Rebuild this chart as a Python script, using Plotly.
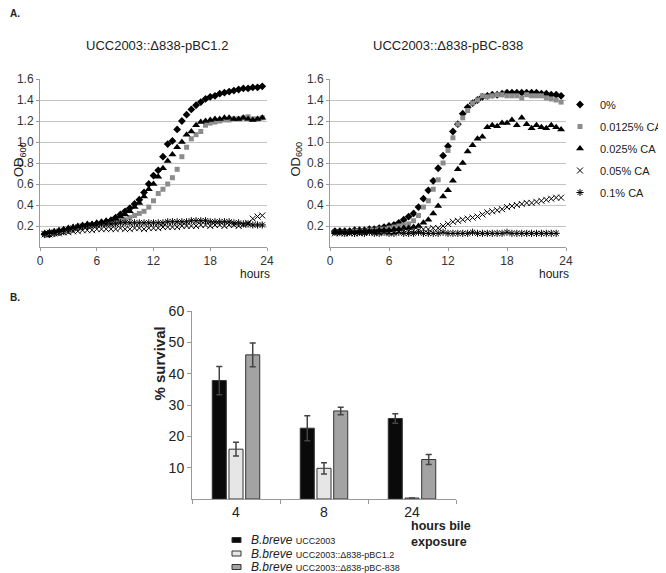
import plotly.graph_objects as go

# the page body keeps its default 8px margin, so the figure is drawn 8px in
OFF = 8
W, H = 666 - OFF, 573 - OFF
FONT = "Liberation Sans, Arial, sans-serif"

# sampling times (hours) for the growth curves
hours = [0.5, 1.0, 1.5, 2.0, 2.5, 3.0, 3.5, 4.0, 4.5, 5.0,
         5.5, 6.0, 6.5, 7.0, 7.5, 8.0, 8.5, 9.0, 9.5, 10.0,
         10.5, 11.0, 11.5, 12.0, 12.5, 13.0, 13.5, 14.0, 14.5, 15.0,
         15.5, 16.0, 16.5, 17.0, 17.5, 18.0, 18.5, 19.0, 19.5, 20.0,
         20.5, 21.0, 21.5, 22.0, 22.5, 23.0, 23.5]

series_names = ["0%", "0.0125% CA", "0.025% CA", "0.05% CA", "0.1% CA"]

# UCC2003::Δ838-pBC1.2  (OD600)
left_0 = [0.12, 0.12, 0.13, 0.14, 0.15, 0.16, 0.17, 0.18, 0.19, 0.20,
          0.21, 0.22, 0.23, 0.24, 0.25, 0.28, 0.31, 0.34, 0.37, 0.41,
          0.45, 0.52, 0.60, 0.68, 0.73, 0.86, 0.98, 1.01, 1.12, 1.20,
          1.26, 1.31, 1.35, 1.38, 1.41, 1.43, 1.44, 1.46, 1.47, 1.48,
          1.49, 1.50, 1.51, 1.51, 1.52, 1.52, 1.53]
left_0125 = [0.12, 0.13, 0.13, 0.14, 0.15, 0.16, 0.17, 0.18, 0.19, 0.20,
             0.21, 0.21, 0.22, 0.22, 0.23, 0.24, 0.25, 0.26, 0.28, 0.30,
             0.32, 0.34, 0.38, 0.44, 0.51, 0.55, 0.60, 0.66, 0.74, 0.86,
             0.95, 1.03, 1.07, 1.10, 1.16, 1.18, 1.19, 1.20, 1.21, 1.21,
             1.22, 1.22, 1.23, 1.24, 1.22, 1.22, 1.23]
left_025 = [0.13, 0.14, 0.15, 0.16, 0.17, 0.18, 0.19, 0.20, 0.21, 0.22,
            0.22, 0.23, 0.24, 0.25, 0.26, 0.27, 0.29, 0.31, 0.34, 0.38,
            0.42, 0.48, 0.55, 0.60, 0.67, 0.75, 0.82, 0.88, 0.95, 1.00,
            1.07, 1.10, 1.16, 1.19, 1.20, 1.21, 1.22, 1.22, 1.23, 1.23,
            1.22, 1.22, 1.23, 1.22, 1.21, 1.22, 1.23]
left_05 = [0.12, 0.12, 0.13, 0.13, 0.14, 0.14, 0.15, 0.15, 0.16, 0.16,
           0.16, 0.17, 0.17, 0.17, 0.17, 0.17, 0.18, 0.17, 0.17, 0.18,
           0.18, 0.17, 0.18, 0.18, 0.18, 0.19, 0.19, 0.19, 0.19, 0.20,
           0.20, 0.20, 0.20, 0.21, 0.21, 0.20, 0.21, 0.21, 0.20, 0.21,
           0.21, 0.20, 0.21, 0.23, 0.27, 0.29, 0.30]
left_1 = [0.13, 0.14, 0.14, 0.15, 0.16, 0.17, 0.18, 0.19, 0.20, 0.20,
          0.21, 0.21, 0.22, 0.22, 0.22, 0.22, 0.23, 0.23, 0.23, 0.23,
          0.23, 0.23, 0.23, 0.23, 0.23, 0.23, 0.24, 0.24, 0.24, 0.24,
          0.24, 0.25, 0.25, 0.25, 0.25, 0.24, 0.24, 0.24, 0.24, 0.24,
          0.23, 0.23, 0.22, 0.22, 0.21, 0.21, 0.21]

# UCC2003::Δ838-pBC-838  (OD600)
right_0 = [0.15, 0.15, 0.15, 0.15, 0.16, 0.16, 0.16, 0.17, 0.17, 0.18,
           0.19, 0.20, 0.21, 0.23, 0.26, 0.29, 0.32, 0.38, 0.46, 0.54,
           0.63, 0.75, 0.87, 0.96, 1.10, 1.17, 1.27, 1.33, 1.37, 1.40,
           1.43, 1.44, 1.45, 1.45, 1.46, 1.47, 1.47, 1.47, 1.47, 1.47,
           1.47, 1.47, 1.46, 1.46, 1.45, 1.45, 1.44]
right_0125 = [0.14, 0.14, 0.14, 0.14, 0.15, 0.15, 0.15, 0.16, 0.16, 0.17,
              0.17, 0.18, 0.19, 0.20, 0.21, 0.22, 0.25, 0.30, 0.38, 0.44,
              0.55, 0.64, 0.80, 0.92, 1.04, 1.17, 1.23, 1.30, 1.37, 1.40,
              1.44, 1.43, 1.44, 1.45, 1.45, 1.44, 1.44, 1.44, 1.42, 1.45,
              1.44, 1.44, 1.44, 1.42, 1.41, 1.40, 1.38]
right_025 = [0.14, 0.14, 0.14, 0.14, 0.14, 0.15, 0.15, 0.15, 0.15, 0.16,
             0.16, 0.16, 0.17, 0.17, 0.18, 0.18, 0.19, 0.20, 0.23, 0.26,
             0.32, 0.39, 0.48, 0.54, 0.63, 0.74, 0.80, 0.91, 0.97, 1.03,
             1.05, 1.14, 1.16, 1.15, 1.18, 1.18, 1.21, 1.16, 1.23, 1.17,
             1.13, 1.16, 1.14, 1.13, 1.16, 1.14, 1.12]
right_05 = [0.13, 0.13, 0.13, 0.13, 0.13, 0.13, 0.14, 0.14, 0.14, 0.14,
            0.14, 0.14, 0.14, 0.15, 0.15, 0.15, 0.16, 0.16, 0.17, 0.17,
            0.18, 0.18, 0.20, 0.22, 0.24, 0.25, 0.26, 0.27, 0.28, 0.29,
            0.31, 0.33, 0.34, 0.35, 0.36, 0.38, 0.39, 0.40, 0.41, 0.42,
            0.42, 0.43, 0.44, 0.45, 0.46, 0.47, 0.47]
right_1 = [0.14, 0.14, 0.13, 0.14, 0.13, 0.14, 0.13, 0.14, 0.13, 0.13,
           0.14, 0.13, 0.13, 0.14, 0.13, 0.13, 0.13, 0.14, 0.13, 0.13,
           0.13, 0.13, 0.14, 0.13, 0.13, 0.13, 0.13, 0.13, 0.14, 0.13,
           0.13, 0.13, 0.13, 0.13, 0.13, 0.14, 0.13, 0.13, 0.13, 0.13,
           0.13, 0.13, 0.13, 0.13, 0.13, 0.13, None]

# panel B: % survival after bile exposure
exposure = ["4", "8", "24"]
strains = ["UCC2003", "UCC2003::Δ838-pBC1.2", "UCC2003::Δ838-pBC-838"]
surv_wt = [37.8, 22.6, 25.7]
surv_wt_err = [4.5, 4.0, 1.5]
surv_pbc12 = [15.9, 9.8, 0.3]
surv_pbc12_err = [2.2, 1.8, 0.0]
surv_pbc838 = [46.0, 28.1, 12.6]
surv_pbc838_err = [3.8, 1.2, 1.6]

# marker looks for the five bile concentrations
markers = [
    dict(symbol="diamond", size=6, color="black"),
    dict(symbol="square", size=5, color="#8c8c8c"),
    dict(symbol="triangle-up", size=7, color="black"),
    dict(symbol="x-thin-open", size=6, color="black", line=dict(width=1, color="#222")),
    dict(symbol="asterisk-open", size=6, color="black", line=dict(width=1, color="#222")),
]


# positions below are read in screen pixels of the reference
def px_x(p):
    return (p - OFF) / W


def px_y(p):
    return 1 - (p - OFF) / H


fig = go.Figure()

left_sets = [left_0, left_0125, left_025, left_05, left_1]
right_sets = [right_0, right_0125, right_025, right_05, right_1]

for name, vals, mk in zip(series_names, left_sets, markers):
    fig.add_trace(go.Scatter(x=hours, y=vals, mode="markers", name=name, marker=mk,
                             xaxis="x", yaxis="y", legendgroup=name, showlegend=True))
for name, vals, mk in zip(series_names, right_sets, markers):
    fig.add_trace(go.Scatter(x=hours, y=vals, mode="markers", name=name, marker=mk,
                             xaxis="x2", yaxis="y2", legendgroup=name, showlegend=False))

bar_fill = ["#0a0a0a", "#e6e6e6", "#a3a3a3"]
bar_vals = [surv_wt, surv_pbc12, surv_pbc838]
bar_errs = [surv_wt_err, surv_pbc12_err, surv_pbc838_err]
for strain, vals, errs, col in zip(strains, bar_vals, bar_errs, bar_fill):
    fig.add_trace(go.Bar(
        x=exposure, y=vals, name=strain, xaxis="x3", yaxis="y3", showlegend=False,
        marker=dict(color=col, line=dict(color="#333", width=1)),
        error_y=dict(type="data", array=errs, color="#444", thickness=1.5, width=3),
    ))

grid_axis = dict(range=[0, 1.6], tickvals=[0.2, 0.4, 0.6, 0.8, 1.0, 1.2, 1.4, 1.6],
                 ticktext=["0.2", "0.4", "0.6", "0.8", "1.0", "1.2", "1.4", "1.6"],
                 showgrid=True, gridcolor="#c4c4c4", gridwidth=1, zeroline=False,
                 showline=True, linecolor="#9a9a9a", ticks="outside", ticklen=3,
                 tickcolor="#9a9a9a", tickfont=dict(size=12, color="#333"),
                 domain=[px_y(247), px_y(79)])
time_axis = dict(range=[0, 24], tickvals=[0, 6, 12, 18, 24], showgrid=False, zeroline=False,
                 showline=True, linecolor="#9a9a9a", ticks="outside", ticklen=3,
                 tickcolor="#9a9a9a", tickfont=dict(size=12, color="#333"))

fig.update_layout(
    width=W, height=H,
    margin=dict(l=0, r=0, t=0, b=0, autoexpand=False),
    paper_bgcolor="white", plot_bgcolor="rgba(0,0,0,0)",
    font=dict(family=FONT, color="#222"),
    xaxis=dict(time_axis, domain=[px_x(40), px_x(267)], anchor="y"),
    yaxis=dict(grid_axis, anchor="x"),
    xaxis2=dict(time_axis, domain=[px_x(330), px_x(566)], anchor="y2"),
    yaxis2=dict(grid_axis, anchor="x2"),
    xaxis3=dict(type="category", domain=[px_x(192), px_x(456)], anchor="y3",
                showline=True, linecolor="#999", ticks="outside", tickson="boundaries",
                ticklen=4, tickcolor="#999", tickfont=dict(size=14, color="#222")),
    yaxis3=dict(range=[0, 60], tickvals=[10, 20, 30, 40, 50, 60], domain=[px_y(499), px_y(311)],
                anchor="x3", showgrid=False, zeroline=False, showline=True, linecolor="#999",
                ticks="outside", ticklen=4, tickcolor="#999", tickfont=dict(size=14, color="#222")),
    barmode="group", bargap=0.43, bargroupgap=0.16,
    legend=dict(x=px_x(560), y=px_y(90), xanchor="left", yanchor="top",
                tracegroupgap=3, font=dict(size=11, color="#222"),
                bgcolor="rgba(0,0,0,0)"),
)

notes = [
    dict(text="<b>A.</b>", x=8, y=14, size=10, xanchor="left"),
    dict(text="<b>B.</b>", x=8, y=297, size=10, xanchor="left"),
    dict(text="UCC2003::Δ838-pBC1.2", x=157, y=45, size=13, xanchor="center"),
    dict(text="UCC2003::Δ838-pBC-838", x=448, y=45, size=13, xanchor="center"),
    dict(text="hours", x=272, y=274, size=12, xanchor="right"),
    dict(text="hours", x=571, y=274, size=12, xanchor="right"),
    dict(text="<b>hours bile<br>exposure</b>", x=409, y=534, size=12.5, xanchor="left"),
]
for n in notes:
    fig.add_annotation(text=n["text"], x=px_x(n["x"]), y=px_y(n["y"]), xref="paper", yref="paper",
                       xanchor=n["xanchor"], yanchor="middle", showarrow=False, align="left",
                       font=dict(size=n["size"], color="#222", family=FONT))

for xpos in [9, 296]:
    fig.add_annotation(text="OD<sub>600</sub>", x=px_x(xpos), y=px_y(140), xref="paper", yref="paper",
                       textangle=-90, showarrow=False, font=dict(size=13, color="#222", family=FONT))

fig.add_annotation(text="<b>% survival</b>", x=px_x(148), y=px_y(403), xref="paper", yref="paper",
                   textangle=-90, showarrow=False, font=dict(size=15, color="#222", family=FONT))

# legend for panel B
for i, (strain, col) in enumerate(zip(strains, bar_fill)):
    yc = 540 + i * 13.5
    fig.add_shape(type="rect", xref="paper", yref="paper",
                  x0=px_x(232), x1=px_x(241), y0=px_y(yc + 2.5), y1=px_y(yc - 2.5),
                  fillcolor=col, line=dict(color="#333", width=1))
    fig.add_annotation(text="<i>B.breve</i> <span style='font-size:9px'>%s</span>" % strain,
                       x=px_x(249), y=px_y(yc), xref="paper", yref="paper", xanchor="left",
                       yanchor="middle", showarrow=False, font=dict(size=12, color="#222", family=FONT))

fig.write_html("out.html")
